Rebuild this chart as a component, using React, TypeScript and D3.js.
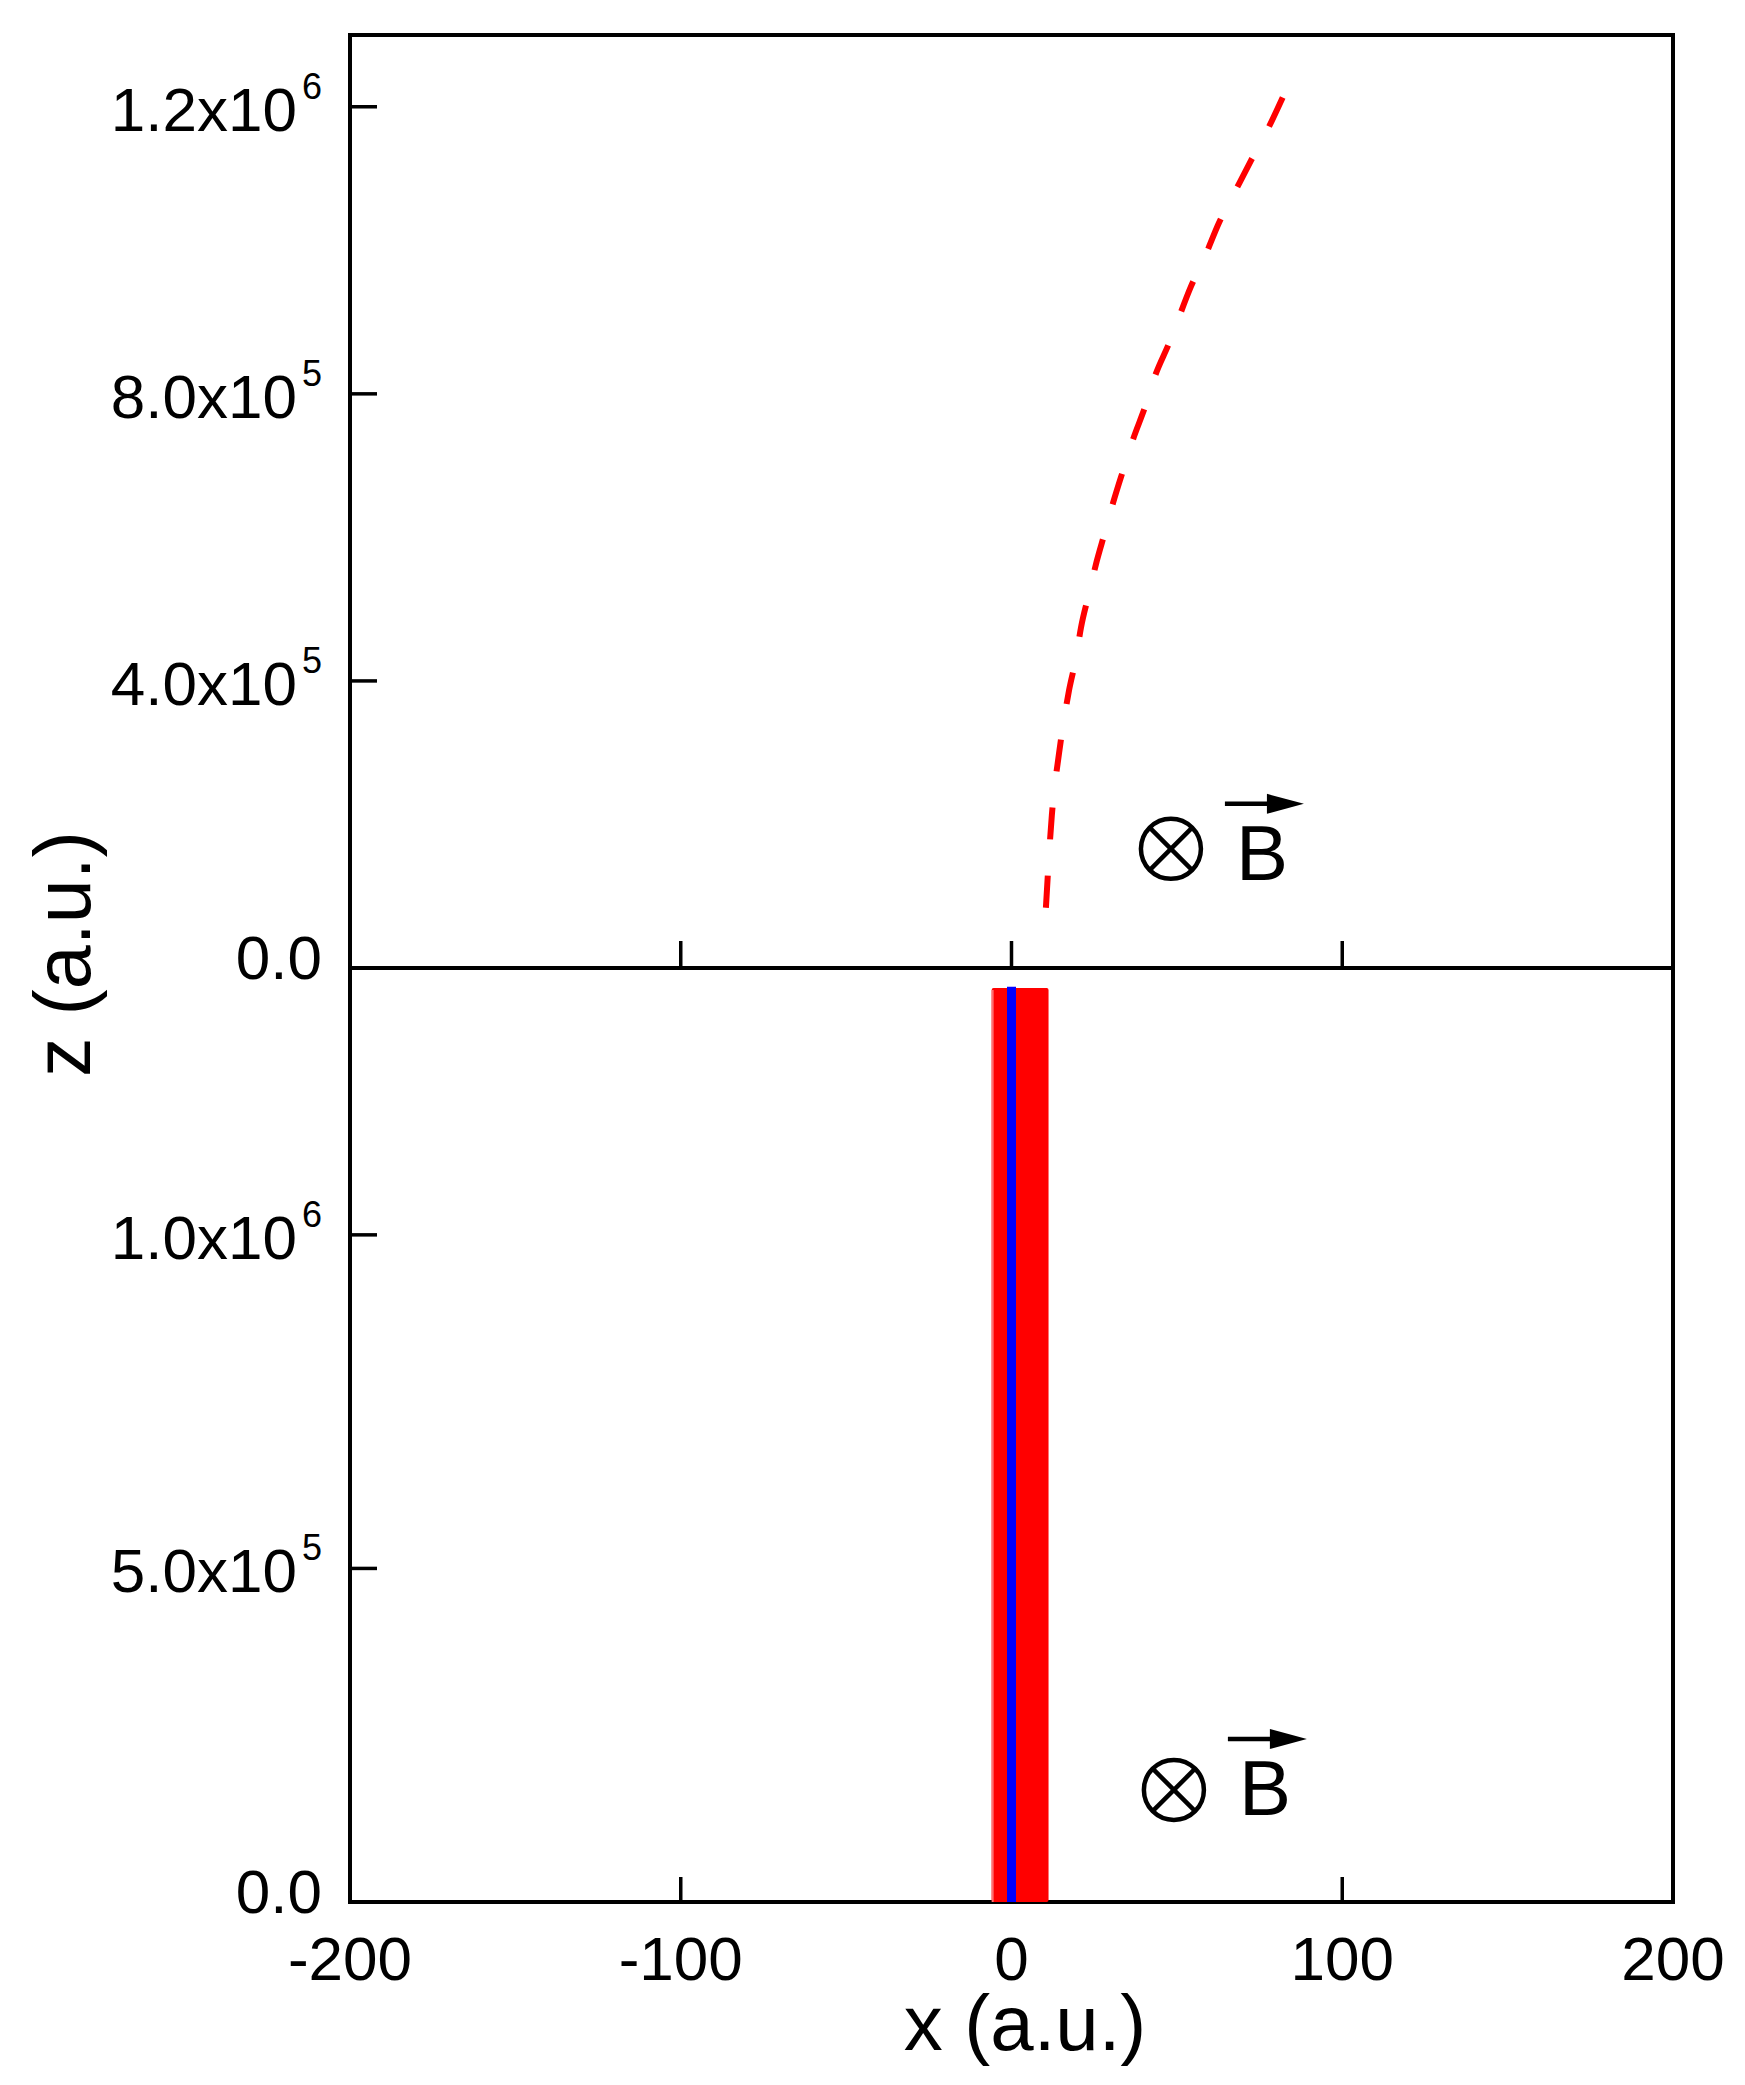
import React from "react";
import * as d3 from "d3";

// ---------- data ----------
const X_DOMAIN = [-200, 200];
const X_TICKS = [-200, -100, 0, 100, 200];

const TOP_Z_DOMAIN = [0, 1.3e6];
const TOP_Z_TICKS = [0, 4e5, 8e5, 1.2e6];
const TOP_Z_LABELS = [
  { base: "0.0", exp: "" },
  { base: "4.0x10", exp: "5" },
  { base: "8.0x10", exp: "5" },
  { base: "1.2x10", exp: "6" },
];

const BOT_Z_DOMAIN = [0, 1.4e6];
const BOT_Z_TICKS = [0, 5e5, 1e6];
const BOT_Z_LABELS = [
  { base: "0.0", exp: "" },
  { base: "5.0x10", exp: "5" },
  { base: "1.0x10", exp: "6" },
];

// deflected trajectory (top panel, dashed red)
const trajX = [10.4, 12.2, 14.4, 15.9, 17.4, 19.5, 21.0, 23.4, 25.5, 28.3, 30.7, 34.0, 36.7, 40.4, 43.4, 47.6, 54.3, 58.8, 62.7, 67.6, 72.4, 77.5, 82.0];
const trajZ = [0.84e5, 2.13e5, 3.0e5, 3.47e5, 3.87e5, 4.32e5, 4.74e5, 5.21e5, 5.62e5, 6.08e5, 6.48e5, 6.97e5, 7.36e5, 7.82e5, 8.25e5, 8.70e5, 9.5e5, 9.95e5, 1.038e6, 1.082e6, 1.125e6, 1.169e6, 1.213e6];

// bottom panel: red band of trajectories and blue central trajectory
const bandX = [-6.0, 11.2];
const bandZ = [0, 1.37e6];
const blueX = [0, 0];
const blueZ = [0, 1.372e6];

// annotation anchors (data coords) for the "⊗ B" markers
const topMarker = { x: 48.2, z: 1.66e5 };
const botMarker = { x: 49.1, z: 1.68e5 };

const FONT = "'Liberation Sans', Arial, Helvetica, sans-serif";

export default function App() {
  const W = 1745, H = 2085;
  const left = 350, right = 1673, top = 35, mid = 968, bottom = 1902;

  const x = d3.scaleLinear().domain(X_DOMAIN).range([left, right]);
  const yTop = d3.scaleLinear().domain(TOP_Z_DOMAIN).range([mid, top]);
  const yBot = d3.scaleLinear().domain(BOT_Z_DOMAIN).range([bottom, mid]);

  const trajPts: [number, number][] = trajX.map((v, i) => [x(v), yTop(trajZ[i])]);
  const trajPath = d3.line().curve(d3.curveMonotoneX)(trajPts) || "";
  const bluePath = d3.line()(blueX.map((v, i) => [x(v), yBot(blueZ[i])] as [number, number])) || "";

  // fit dash pattern so that the line starts and ends with a dash
  let L = 0;
  for (let i = 1; i < trajPts.length; i++) {
    L += Math.hypot(trajPts[i][0] - trajPts[i - 1][0], trajPts[i][1] - trajPts[i - 1][1]);
  }
  const dash = 32;
  const n = Math.max(1, Math.round((L - dash) / 66));
  const period = (L - dash) / n;
  const dashArray = `${dash} ${period - dash}`;

  const axisW = 4;
  const tickLen = 27;

  const yLabel = (y: number, lab: { base: string; exp: string }, key: string) => (
    <text
      key={key}
      x={322}
      y={y + (lab.exp ? 24 : 11)}
      textAnchor="end"
      fontFamily={FONT}
      fontSize={62}
      fill="#000"
    >
      {lab.base}
      {lab.exp ? (
        <tspan dx={5} dy={-32} fontSize={36}>
          {lab.exp}
        </tspan>
      ) : null}
    </text>
  );

  const marker = (cx: number, cy: number, bDy: number, arrowDy: number, key: string) => {
    const r = 30;
    const d = r * Math.SQRT1_2;
    const bx = cx + 65;
    const ax0 = cx + 54, ax1 = cx + 133;
    const ay = cy + arrowDy;
    return (
      <g key={key}>
        <circle cx={cx} cy={cy} r={r} fill="none" stroke="#000" strokeWidth={4.5} />
        <line x1={cx - d} y1={cy - d} x2={cx + d} y2={cy + d} stroke="#000" strokeWidth={4.5} />
        <line x1={cx - d} y1={cy + d} x2={cx + d} y2={cy - d} stroke="#000" strokeWidth={4.5} />
        <text x={bx} y={cy + bDy} fontFamily={FONT} fontSize={78} fill="#000">B</text>
        <line x1={ax0} y1={ay} x2={ax1 - 30} y2={ay} stroke="#000" strokeWidth={4.5} />
        <path d={`M${ax1 - 37},${ay - 10} L${ax1},${ay} L${ax1 - 37},${ay + 10} Z`} fill="#000" />
      </g>
    );
  };

  return (
    <svg
      width={W}
      height={H}
      viewBox={`0 0 ${W} ${H}`}
      style={{ position: "absolute", left: 0, top: 0, background: "#fff" }}
    >
      <rect x={0} y={0} width={W} height={H} fill="#fff" />

      {/* ticks: top panel x ticks (on middle line, pointing up) */}
      {X_TICKS.map((t) => (
        <line key={"tx" + t} x1={x(t)} x2={x(t)} y1={mid} y2={mid - tickLen} stroke="#000" strokeWidth={3.5} />
      ))}
      {/* bottom panel x ticks */}
      {X_TICKS.map((t) => (
        <line key={"bx" + t} x1={x(t)} x2={x(t)} y1={bottom} y2={bottom - 25} stroke="#000" strokeWidth={3.5} />
      ))}
      {/* y ticks */}
      {TOP_Z_TICKS.map((t) => (
        <line key={"ty" + t} x1={left} x2={left + tickLen} y1={yTop(t)} y2={yTop(t)} stroke="#000" strokeWidth={3.5} />
      ))}
      {BOT_Z_TICKS.map((t) => (
        <line key={"by" + t} x1={left} x2={left + tickLen} y1={yBot(t)} y2={yBot(t)} stroke="#000" strokeWidth={3.5} />
      ))}

      {/* frame */}
      <rect x={left} y={top} width={right - left} height={bottom - top} fill="none" stroke="#000" strokeWidth={axisW} />
      <line x1={left} x2={right} y1={mid} y2={mid} stroke="#000" strokeWidth={axisW} />

      {/* top panel: dashed deflected trajectory */}
      <path d={trajPath} fill="none" stroke="#ff0000" strokeWidth={6} strokeDasharray={dashArray} strokeLinecap="butt" />

      {/* bottom panel: red band + blue line */}
      <rect
        x={x(bandX[0])}
        y={yBot(bandZ[1])}
        width={x(bandX[1]) - x(bandX[0])}
        height={yBot(bandZ[0]) - yBot(bandZ[1])}
        fill="#ff0000"
        rx={2}
      />
      <line
        x1={x(bandX[0]) + 1}
        x2={x(bandX[0]) + 1}
        y1={yBot(bandZ[1]) + 2}
        y2={yBot(bandZ[0])}
        stroke="#ff7070"
        strokeWidth={2}
      />
      <path d={bluePath} fill="none" stroke="#0000ff" strokeWidth={9} />

      {/* markers */}
      {marker(x(topMarker.x), yTop(topMarker.z), 31, -45, "mt")}
      {marker(x(botMarker.x), yBot(botMarker.z), 25, -51, "mb")}

      {/* y tick labels */}
      {TOP_Z_TICKS.map((t, i) => yLabel(yTop(t), TOP_Z_LABELS[i], "tl" + t))}
      {BOT_Z_TICKS.map((t, i) => yLabel(yBot(t), BOT_Z_LABELS[i], "bl" + t))}

      {/* x tick labels */}
      {X_TICKS.map((t) => (
        <text key={"xl" + t} x={x(t)} y={1980} textAnchor="middle" fontFamily={FONT} fontSize={62} fill="#000">
          {String(t)}
        </text>
      ))}

      {/* axis titles */}
      <text x={1025} y={2050} textAnchor="middle" fontFamily={FONT} fontSize={78} fill="#000">
        x (a.u.)
      </text>
      <text
        transform={`translate(90, 954) rotate(-90)`}
        textAnchor="middle"
        fontFamily={FONT}
        fontSize={79}
        fill="#000"
      >
        z (a.u.)
      </text>
    </svg>
  );
}
